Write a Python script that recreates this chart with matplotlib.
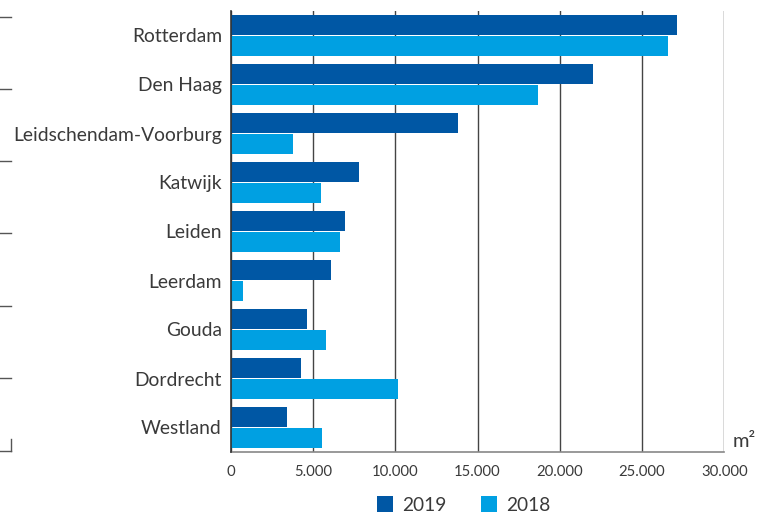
import matplotlib
matplotlib.use("Agg")
import matplotlib.pyplot as plt
from matplotlib.lines import Line2D
from matplotlib.patches import Patch
from matplotlib.ticker import FuncFormatter
import numpy as np

plt.rcParams['font.family'] = ['Lato', 'DejaVu Sans']

categories = ["Rotterdam", "Den Haag", "Leidschendam-Voorburg", "Katwijk", "Leiden",
              "Leerdam", "Gouda", "Dordrecht", "Westland"]
values_2019 = [27100, 22000, 13800, 7800, 6950, 6100, 4650, 4300, 3400]
values_2018 = [26600, 18700, 3800, 5500, 6650, 750, 5800, 10150, 5550]
series_labels = ["2019", "2018"]
x_ticks = [0, 5000, 10000, 15000, 20000, 25000, 30000]
unit_label = "m²"

c2019 = "#0057A4"
c2018 = "#00A0E2"
text_c = "#3a3a3a"

W, H = 771, 515
fig = plt.figure(figsize=(W / 100, H / 100), dpi=100)
ax = fig.add_axes([230.7 / W, 1 - 452 / H, (724.3 - 230.7) / W, (452 - 11) / H])

y = np.arange(len(categories))
bh = 0.39
off = 0.215
ax.barh(y - off, values_2019, height=bh, color=c2019, zorder=3)
ax.barh(y + off, values_2018, height=bh, color=c2018, zorder=3)

ax.set_ylim(len(categories) - 0.5, -0.5)
ax.set_xlim(0, 30000)
ax.set_xticks(x_ticks)
ax.xaxis.set_major_formatter(FuncFormatter(lambda v, p: f"{int(v):,}".replace(",", ".")))
ax.set_yticks(y)
ax.set_yticklabels(categories)
ax.tick_params(axis='y', length=0, pad=6.3, labelsize=13.9, labelcolor=text_c)
ax.tick_params(axis='x', length=0, pad=9, labelsize=10.7, labelcolor=text_c)

ax.grid(axis='x', color="#444444", linewidth=1.0, zorder=0)
for s in ["top", "right"]:
    ax.spines[s].set_visible(False)
ax.spines["left"].set_color("#333333")
ax.spines["left"].set_linewidth(1.2)
ax.spines["left"].set_zorder(4)
ax.spines["bottom"].set_color("#888888")
ax.spines["bottom"].set_linewidth(1.2)

ax.text(1.017, 0.005, unit_label, transform=ax.transAxes, ha='left', va='bottom',
        fontsize=14.5, color=text_c)

# stray axis marks on far left
for py in [17, 89, 161, 233, 306, 378, 450.5]:
    fig.add_artist(Line2D([0, 11 / W], [1 - py / H, 1 - py / H], transform=fig.transFigure,
                          color="#555555", linewidth=1.0))
fig.add_artist(Line2D([11 / W, 11 / W], [1 - 439 / H, 1 - 451 / H], transform=fig.transFigure,
                      color="#555555", linewidth=1.0))

handles = [Patch(facecolor=c2019), Patch(facecolor=c2018)]
fig.legend(handles, series_labels, loc='center', bbox_to_anchor=(463.5 / W, 1 - 505 / H),
           ncol=2, frameon=False, fontsize=13.8, handlelength=0.85, handleheight=0.85,
           columnspacing=1.8, handletextpad=0.45, labelcolor=text_c)

fig.savefig("out.png", dpi=100)
